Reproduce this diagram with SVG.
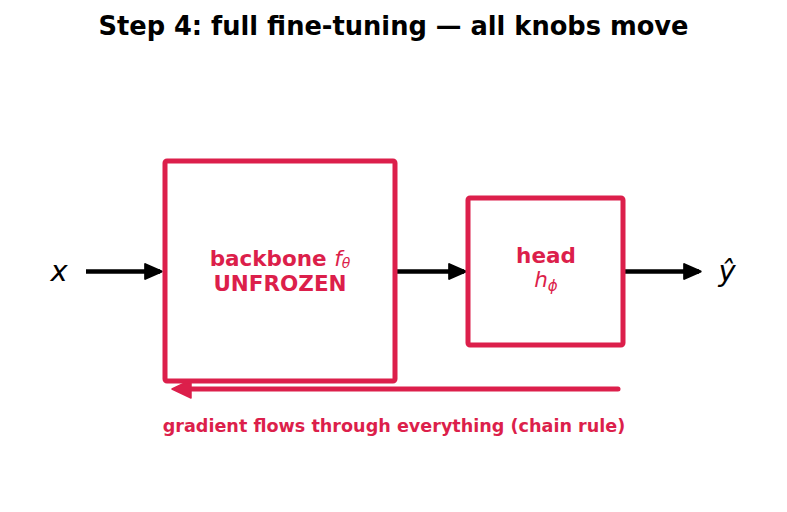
<svg xmlns="http://www.w3.org/2000/svg" width="787" height="512" viewBox="0 0 787 512">
<style>
.box{fill:#fff;stroke:#dc1f4b;stroke-width:5}
.lbl{font-family:"DejaVu Sans",sans-serif;fill:#dc1f4b;text-anchor:middle}
.b{font-weight:bold}
.it{font-style:italic;font-weight:normal}
.ax{stroke:#000;stroke-width:4.5;fill:none}
.var{font-family:"DejaVu Sans",sans-serif;font-style:italic;font-size:29px;fill:#000;text-anchor:middle}
</style>
<defs>
<marker id="ah" viewBox="-1 -1 12 12" refX="9" refY="5" markerWidth="4.4" markerHeight="4.4" orient="auto" markerUnits="strokeWidth">
<path d="M0,0.5 L10,5 L0,9.5 z" fill="#000" stroke="#000" stroke-width="1.2" stroke-linejoin="round"/>
</marker>
</defs>
<rect width="787" height="512" fill="#fff"/>
<text x="393.5" y="35" font-family="DejaVu Sans,sans-serif" font-weight="bold" font-size="25.7" text-anchor="middle" fill="#000">Step 4: full fine-tuning — all knobs move</text>
<g id="connectors">
<line class="ax" x1="86" y1="271.5" x2="160" y2="271.5" marker-end="url(#ah)"/>
<line class="ax" x1="397" y1="271.5" x2="464" y2="271.5" marker-end="url(#ah)"/>
<line class="ax" x1="625" y1="271.5" x2="699" y2="271.5" marker-end="url(#ah)"/>
<line x1="618" y1="389" x2="188" y2="389" stroke="#dc1f4b" stroke-width="5" stroke-linecap="round"/>
<path d="M172,389 L191,380 L191,398 z" fill="#dc1f4b" stroke="#dc1f4b" stroke-width="1.5" stroke-linejoin="round"/>
</g>
<g id="x"><text class="var" x="59" y="281">x</text></g>
<g id="backbone">
<rect class="box" x="165" y="161" width="230" height="220" rx="2"/>
<text class="lbl b" x="280" y="266" font-size="21.5">backbone <tspan class="it">f</tspan><tspan class="it" font-size="14" dy="2">θ</tspan></text>
<text class="lbl b" x="280" y="291" font-size="21.5">UNFROZEN</text>
</g>
<g id="head">
<rect class="box" x="468" y="198" width="155" height="147" rx="2"/>
<text class="lbl b" x="546" y="263" font-size="21.5">head</text>
<text class="lbl it" x="546" y="287" font-size="21.5">h<tspan font-size="15" dy="4">ϕ</tspan></text>
</g>
<g id="yhat"><text class="var" x="727" y="281">ŷ</text></g>
<text class="lbl b" x="394" y="432" font-size="17.6">gradient flows through everything (chain rule)</text>
</svg>
